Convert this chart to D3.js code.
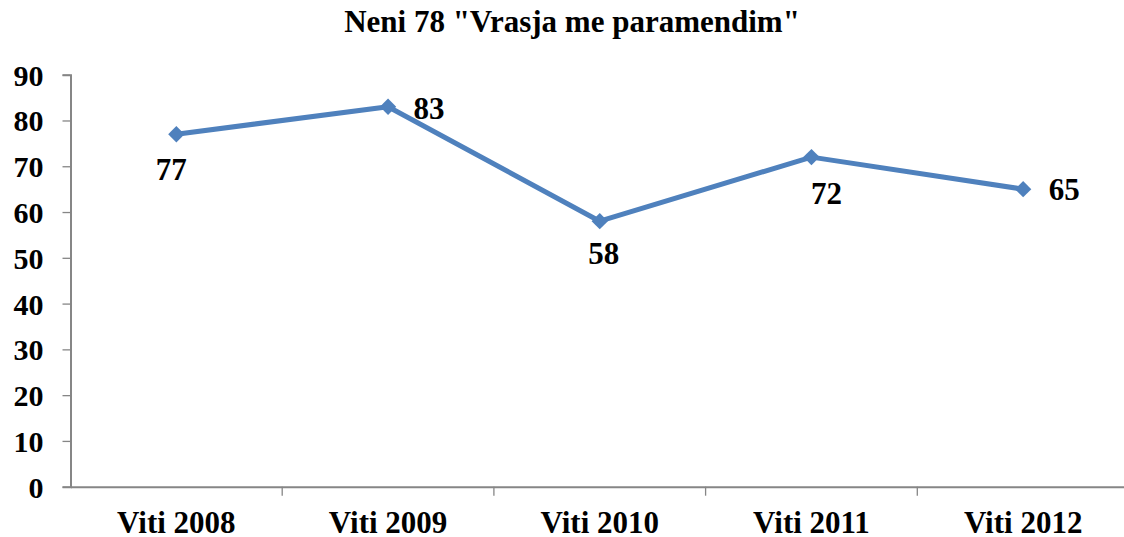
<!DOCTYPE html>
<html>
<head>
<meta charset="utf-8">
<script src="https://cdn.jsdelivr.net/npm/d3@7"></script>
<style>
  body { margin: 0; background: #fff; }
  text { font-family: "Liberation Serif", "Times New Roman", serif; font-weight: bold; }
</style>
</head>
<body>
<svg id="chart" width="1124" height="537"></svg>
<script>
const categories = ["Viti 2008", "Viti 2009", "Viti 2010", "Viti 2011", "Viti 2012"];
const values = [77, 83, 58, 72, 65];
const yTicks = [0, 10, 20, 30, 40, 50, 60, 70, 80, 90];
const title = 'Neni 78 "Vrasja me paramendim"';
// label placement offsets (px) relative to each point
const labelDx = [-5, 41, 4, 15, 41];
const labelDy = [46, 12, 43, 47, 11];

const svg = d3.select("#chart");
const plotLeft = 70.5, plotBottom = 486.7, plotTop = 74.7;
const band = 211.7;

const x = d3.scaleBand().domain(categories).range([plotLeft, plotLeft + band * categories.length]);
const y = d3.scaleLinear().domain([0, 90]).range([plotBottom, plotTop]);

svg.append("text")
  .attr("x", 572).attr("y", 32)
  .attr("text-anchor", "middle")
  .style("font-size", "31px")
  .text(title);

// y axis
const gy = svg.append("g").attr("transform", "translate(" + plotLeft + ",0)")
  .call(d3.axisLeft(y).tickValues(yTicks).tickSize(8).tickPadding(19).tickFormat(d3.format("d")));
gy.selectAll("text").style("font-size", "30px").attr("fill", "#000").attr("dy", "0.35em");

// x axis
const gx = svg.append("g").attr("transform", "translate(0," + plotBottom + ")")
  .call(d3.axisBottom(x).tickSize(0).tickPadding(24));
gx.selectAll("text").style("font-size", "31px").attr("fill", "#000");
gx.selectAll(".tick line").remove();
gx.selectAll(".band-tick").data(categories.slice(1)).enter().append("line")
  .attr("class", "band-tick")
  .attr("x1", d => x(d)).attr("x2", d => x(d))
  .attr("y1", 0).attr("y2", 9)
  .attr("stroke", "#868686").attr("stroke-width", 1.3);

[gx, gy].forEach(g => {
  g.select(".domain").attr("stroke", "#868686").attr("stroke-width", 2);
  g.selectAll(".tick line").attr("stroke", "#868686").attr("stroke-width", 1.3);
});

const cx = (d, i) => x(categories[i]) + x.bandwidth() / 2;

svg.append("path")
  .datum(values)
  .attr("fill", "none")
  .attr("stroke", "#4F81BD")
  .attr("stroke-width", 5)
  .attr("stroke-linejoin", "round")
  .attr("d", d3.line().x(cx).y(d => y(d)));

svg.selectAll(".marker").data(values).enter().append("path")
  .attr("class", "marker")
  .attr("transform", (d, i) => "translate(" + cx(d, i) + "," + y(d) + ")")
  .attr("d", d3.symbol().type(d3.symbolDiamond2).size(170))
  .attr("fill", "#4F81BD");

svg.selectAll(".lbl").data(values).enter().append("text")
  .attr("class", "lbl")
  .attr("x", (d, i) => cx(d, i) + labelDx[i])
  .attr("y", (d, i) => y(d) + labelDy[i])
  .attr("text-anchor", "middle")
  .style("font-size", "31px")
  .text(d => d);
</script>
</body>
</html>
